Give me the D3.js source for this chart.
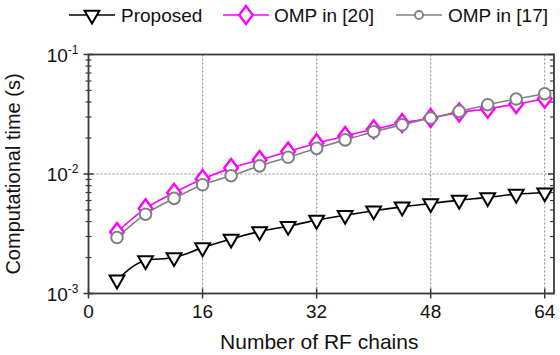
<!DOCTYPE html>
<html><head><meta charset="utf-8">
<script src="https://cdn.jsdelivr.net/npm/d3@7"></script>
<style>body{margin:0;background:#fff}svg{display:block;font-family:"Liberation Sans",Arial,sans-serif}</style>
</head><body><svg id="c" width="560" height="355"></svg>
<script>
const xValues = [4,8,12,16,20,24,28,32,36,40,44,48,52,56,60,64];
const proposed = [1.30e-3,1.89e-3,2.0e-3,2.42e-3,2.86e-3,3.30e-3,3.66e-3,4.11e-3,4.52e-3,4.92e-3,5.31e-3,5.67e-3,6.05e-3,6.37e-3,6.79e-3,6.97e-3];
const omp20 = [3.27e-3,5.15e-3,6.97e-3,9.08e-3,1.12e-2,1.31e-2,1.54e-2,1.81e-2,2.08e-2,2.37e-2,2.67e-2,2.94e-2,3.27e-2,3.52e-2,3.85e-2,4.27e-2];
const omp17 = [2.94e-3,4.61e-3,6.25e-3,8.13e-3,9.68e-3,1.17e-2,1.38e-2,1.64e-2,1.93e-2,2.26e-2,2.58e-2,2.94e-2,3.34e-2,3.80e-2,4.24e-2,4.70e-2];
const xTicks = [0,16,32,48,64];
const yTicks = [1e-3,1e-2,1e-1];
const yTickExp = ["-3","-2","-1"];
const seriesNames = ["Proposed","OMP in [20]","OMP in [17]"];

const svg = d3.select("#c");
const L=88.5, R=554, T=54.5, B=293.5;
const x = d3.scaleLinear().domain([0,65.3]).range([L,R]);
const y = d3.scaleLog().domain([1e-3,1e-1]).range([B,T]);
const axisColor = "#3a3a3a";

// grid
const g = svg.append("g");
g.selectAll("line.vg").data(xTicks.filter(d=>d>0)).enter().append("line")
  .attr("x1",d=>x(d)).attr("x2",d=>x(d)).attr("y1",T).attr("y2",B)
  .attr("stroke","#888").attr("stroke-width",1).attr("stroke-dasharray","2,2");
g.append("line").attr("x1",L).attr("x2",R).attr("y1",y(1e-2)).attr("y2",y(1e-2))
  .attr("stroke","#888").attr("stroke-width",1).attr("stroke-dasharray","2,2");

// minor ticks
const minor = [];
for (let e=-3;e<-1;e++) for (let k=2;k<=9;k++) minor.push(k*Math.pow(10,e));
g.selectAll("line.ml").data(minor).enter().append("line")
  .attr("x1",L-3).attr("x2",L+3).attr("y1",d=>y(d)).attr("y2",d=>y(d))
  .attr("stroke",axisColor).attr("stroke-width",1.2);
g.selectAll("line.mr").data(minor).enter().append("line")
  .attr("x1",R-4).attr("x2",R).attr("y1",d=>y(d)).attr("y2",d=>y(d))
  .attr("stroke",axisColor).attr("stroke-width",1.2);
g.selectAll("line.Ml").data(yTicks).enter().append("line")
  .attr("x1",L-5).attr("x2",L+5).attr("y1",d=>y(d)).attr("y2",d=>y(d))
  .attr("stroke",axisColor).attr("stroke-width",1.5);
g.selectAll("line.Mr").data(yTicks).enter().append("line")
  .attr("x1",R-6).attr("x2",R).attr("y1",d=>y(d)).attr("y2",d=>y(d))
  .attr("stroke",axisColor).attr("stroke-width",1.5);
g.selectAll("line.xt").data(xTicks).enter().append("line")
  .attr("x1",d=>x(d)).attr("x2",d=>x(d)).attr("y1",B-5).attr("y2",B+5)
  .attr("stroke",axisColor).attr("stroke-width",1.5);

// frame
g.append("rect").attr("x",L).attr("y",T).attr("width",R-L).attr("height",B-T)
  .attr("fill","none").attr("stroke",axisColor).attr("stroke-width",1.8);

// tick labels
svg.selectAll("text.xl").data(xTicks).enter().append("text")
  .attr("x",d=>x(d)).attr("y",B+24).attr("text-anchor","middle")
  .attr("font-size",19).attr("fill","#111").text(d=>d);
const yl = svg.selectAll("text.yl").data(yTicks).enter().append("text")
  .attr("x",L-10).attr("y",d=>y(d)+7).attr("text-anchor","end")
  .attr("font-size",19).attr("fill","#111");
yl.append("tspan").text("10");
yl.append("tspan").attr("dy",-8).attr("font-size",12).text((d,i)=>yTickExp[i]);

// axis titles
svg.append("text").attr("x",(L+R)/2-2).attr("y",349).attr("text-anchor","middle")
  .attr("font-size",21).attr("fill","#111").text("Number of RF chains");
svg.append("text").attr("transform",`translate(20,${(T+B)/2}) rotate(-90)`)
  .attr("text-anchor","middle").attr("font-size",20).attr("fill","#111").text("Computational time (s)");

// series
const data = xValues.map((v,i)=>({x:v,p:proposed[i],a:omp20[i],b:omp17[i]}));
const line = key => d3.line().x(d=>x(d.x)).y(d=>y(d[key])).curve(d3.curveMonotoneX);
const tri = d3.symbol().type(d3.symbolTriangle).size(95);
const dia = d3.symbol().type(d3.symbolDiamond).size(95);

function drawSeries(key,color,kind){
  svg.append("path").datum(data).attr("d",line(key)).attr("fill","none")
    .attr("stroke",color).attr("stroke-width",1.6);
  const s = svg.append("g");
  data.forEach(d=>{
    if(kind==="tri") s.append("path").attr("d",tri()).attr("transform",`translate(${x(d.x)},${y(d[key])}) rotate(180)`)
      .attr("fill","#fff").attr("stroke",color).attr("stroke-width",2);
    else if(kind==="dia") s.append("path").attr("d",dia()).attr("transform",`translate(${x(d.x)},${y(d[key])}) scale(1.3,1)`)
      .attr("fill","#fff").attr("stroke",color).attr("stroke-width",2);
    else s.append("circle").attr("cx",x(d.x)).attr("cy",y(d[key])).attr("r",5.8)
      .attr("fill","#fff").attr("stroke",color).attr("stroke-width",2);
  });
}
drawSeries("p","#000","tri");
drawSeries("a","#ff00ff","dia");
drawSeries("b","#808080","circ");

// legend
const legend = [
  {name:seriesNames[0],color:"#000",kind:"tri",x0:69,tx:121},
  {name:seriesNames[1],color:"#ff00ff",kind:"dia",x0:223,tx:274},
  {name:seriesNames[2],color:"#808080",kind:"circ",x0:396,tx:448}
];
const ly = 15;
legend.forEach(l=>{
  svg.append("line").attr("x1",l.x0).attr("x2",l.x0+46).attr("y1",ly).attr("y2",ly)
    .attr("stroke",l.color).attr("stroke-width",1.6);
  const cx = l.x0+23;
  if(l.kind==="tri") svg.append("path").attr("d",tri()).attr("transform",`translate(${cx},${ly}) rotate(180)`)
    .attr("fill","#fff").attr("stroke",l.color).attr("stroke-width",2);
  else if(l.kind==="dia") svg.append("path").attr("d",dia()).attr("transform",`translate(${cx},${ly}) scale(1.3,1)`)
    .attr("fill","#fff").attr("stroke",l.color).attr("stroke-width",2);
  else svg.append("circle").attr("cx",cx).attr("cy",ly).attr("r",4).attr("fill","#fff").attr("stroke",l.color).attr("stroke-width",1.8);
  svg.append("text").attr("x",l.tx).attr("y",ly+7).attr("font-size",19).attr("fill","#111").text(l.name);
});
</script></body></html>
